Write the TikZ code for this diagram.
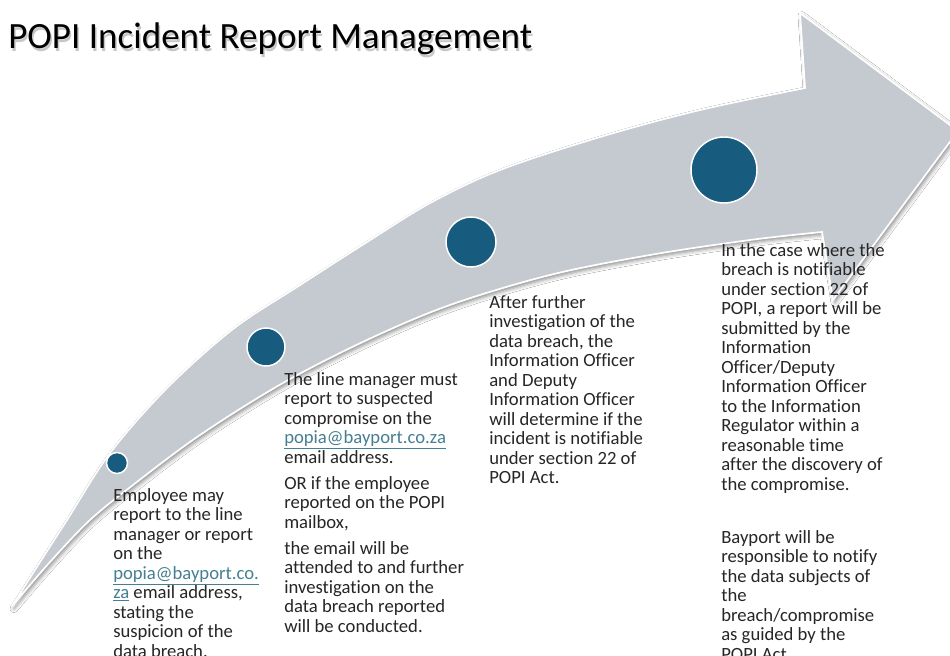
\documentclass[tikz,border=0pt]{standalone}
\usepackage{fontspec}
\setmainfont{Carlito}[Ligatures=NoCommon]
\usetikzlibrary{shadows.blur}
\definecolor{arrowfill}{HTML}{C5C9D0}
\definecolor{dotblue}{HTML}{175B7F}
\definecolor{txtgray}{HTML}{262626}
\definecolor{linkteal}{HTML}{467F92}
\newcommand{\lnk}[1]{\textcolor{linkteal}{\underline{#1}}}
\begin{document}
\begin{tikzpicture}[x=0.75pt,y=-0.75pt,
  dot/.style={circle, fill=dotblue, draw=white, line width=1.1pt, inner sep=0pt},
  txt/.style={anchor=north west, inner sep=0pt, align=left, text=txtgray,
    font=\fontsize{14}{14.625}\selectfont},
  ttl/.style={anchor=base west, inner sep=0pt, font=\fontsize{27.8}{32}\selectfont}]
\useasboundingbox (0,0) rectangle (950,656);
\clip (0,0) rectangle (950,656);
\fill[white] (0,0) rectangle (950,656);
% title with soft shadow
\node[ttl, text=black, opacity=0.22] (titleshadow) at (9.5,51.5) {POPI Incident Report Management};
\node[ttl, text=black] (title) at (8,49) {POPI Incident Report Management};
% curved arrow
\path[fill=arrowfill, draw=white, line width=1.3pt, line join=miter,
  blur shadow={shadow xshift=1.5pt, shadow yshift=-2pt, shadow blur radius=3pt, shadow opacity=45}]
  (12,606) -- plot[smooth, tension=0.55] coordinates {(12,606) (40,562) (67,520) (110,453) (167,388) (233,329) (300,285) (367,242) (430,203) (500,170) (600,137) (700,110) (805,88)}
  -- (800,13) -- (958,131) -- (833,300) -- (822,232)
  -- plot[smooth, tension=0.55] coordinates {(822,232) (750,240) (650,255) (550,275) (450,305) (367,340) (283,383) (200,435) (133,485) (90,520) (50,562) (12,606)}
  -- cycle;
% dots
\node[dot, minimum size=15.75pt] (c1) at (117,463) {};
\node[dot, minimum size=28.5pt] (c2) at (266,347) {};
\node[dot, minimum size=37.5pt] (c3) at (471,242) {};
\node[dot, minimum size=49.5pt] (c4) at (724,170) {};
% texts
\node[txt] (t1) at (113,488) {Employee may\\report to the line\\manager or report\\on the\\\lnk{popia@bayport.co.}\\\lnk{za} email address,\\stating the\\suspicion of the\\data breach.};
\node[txt] (t2) at (284,372) {The line manager must\\report to suspected\\compromise on the\\\lnk{popia@bayport.co.za}\\email address.\\[4.9pt]OR if the employee\\reported on the POPI\\mailbox,\\[4.9pt]the email will be\\attended to and further\\investigation on the\\data breach reported\\will be conducted.};
\node[txt] (t3) at (489,295) {After further\\investigation of the\\data breach, the\\Information Officer\\and Deputy\\Information Officer\\will determine if the\\incident is notifiable\\under section 22 of\\POPI Act.};
\node[txt] (t4) at (721,243) {In the case where the\\breach is notifiable\\under section 22 of\\POPI, a report will be\\submitted by the\\Information\\Officer/Deputy\\Information Officer\\to the Information\\Regulator within a\\reasonable time\\after the discovery of\\the compromise.\\[25pt]Bayport will be\\responsible to notify\\the data subjects of\\the\\breach/compromise\\as guided by the\\POPI Act.};
\end{tikzpicture}
\end{document}
